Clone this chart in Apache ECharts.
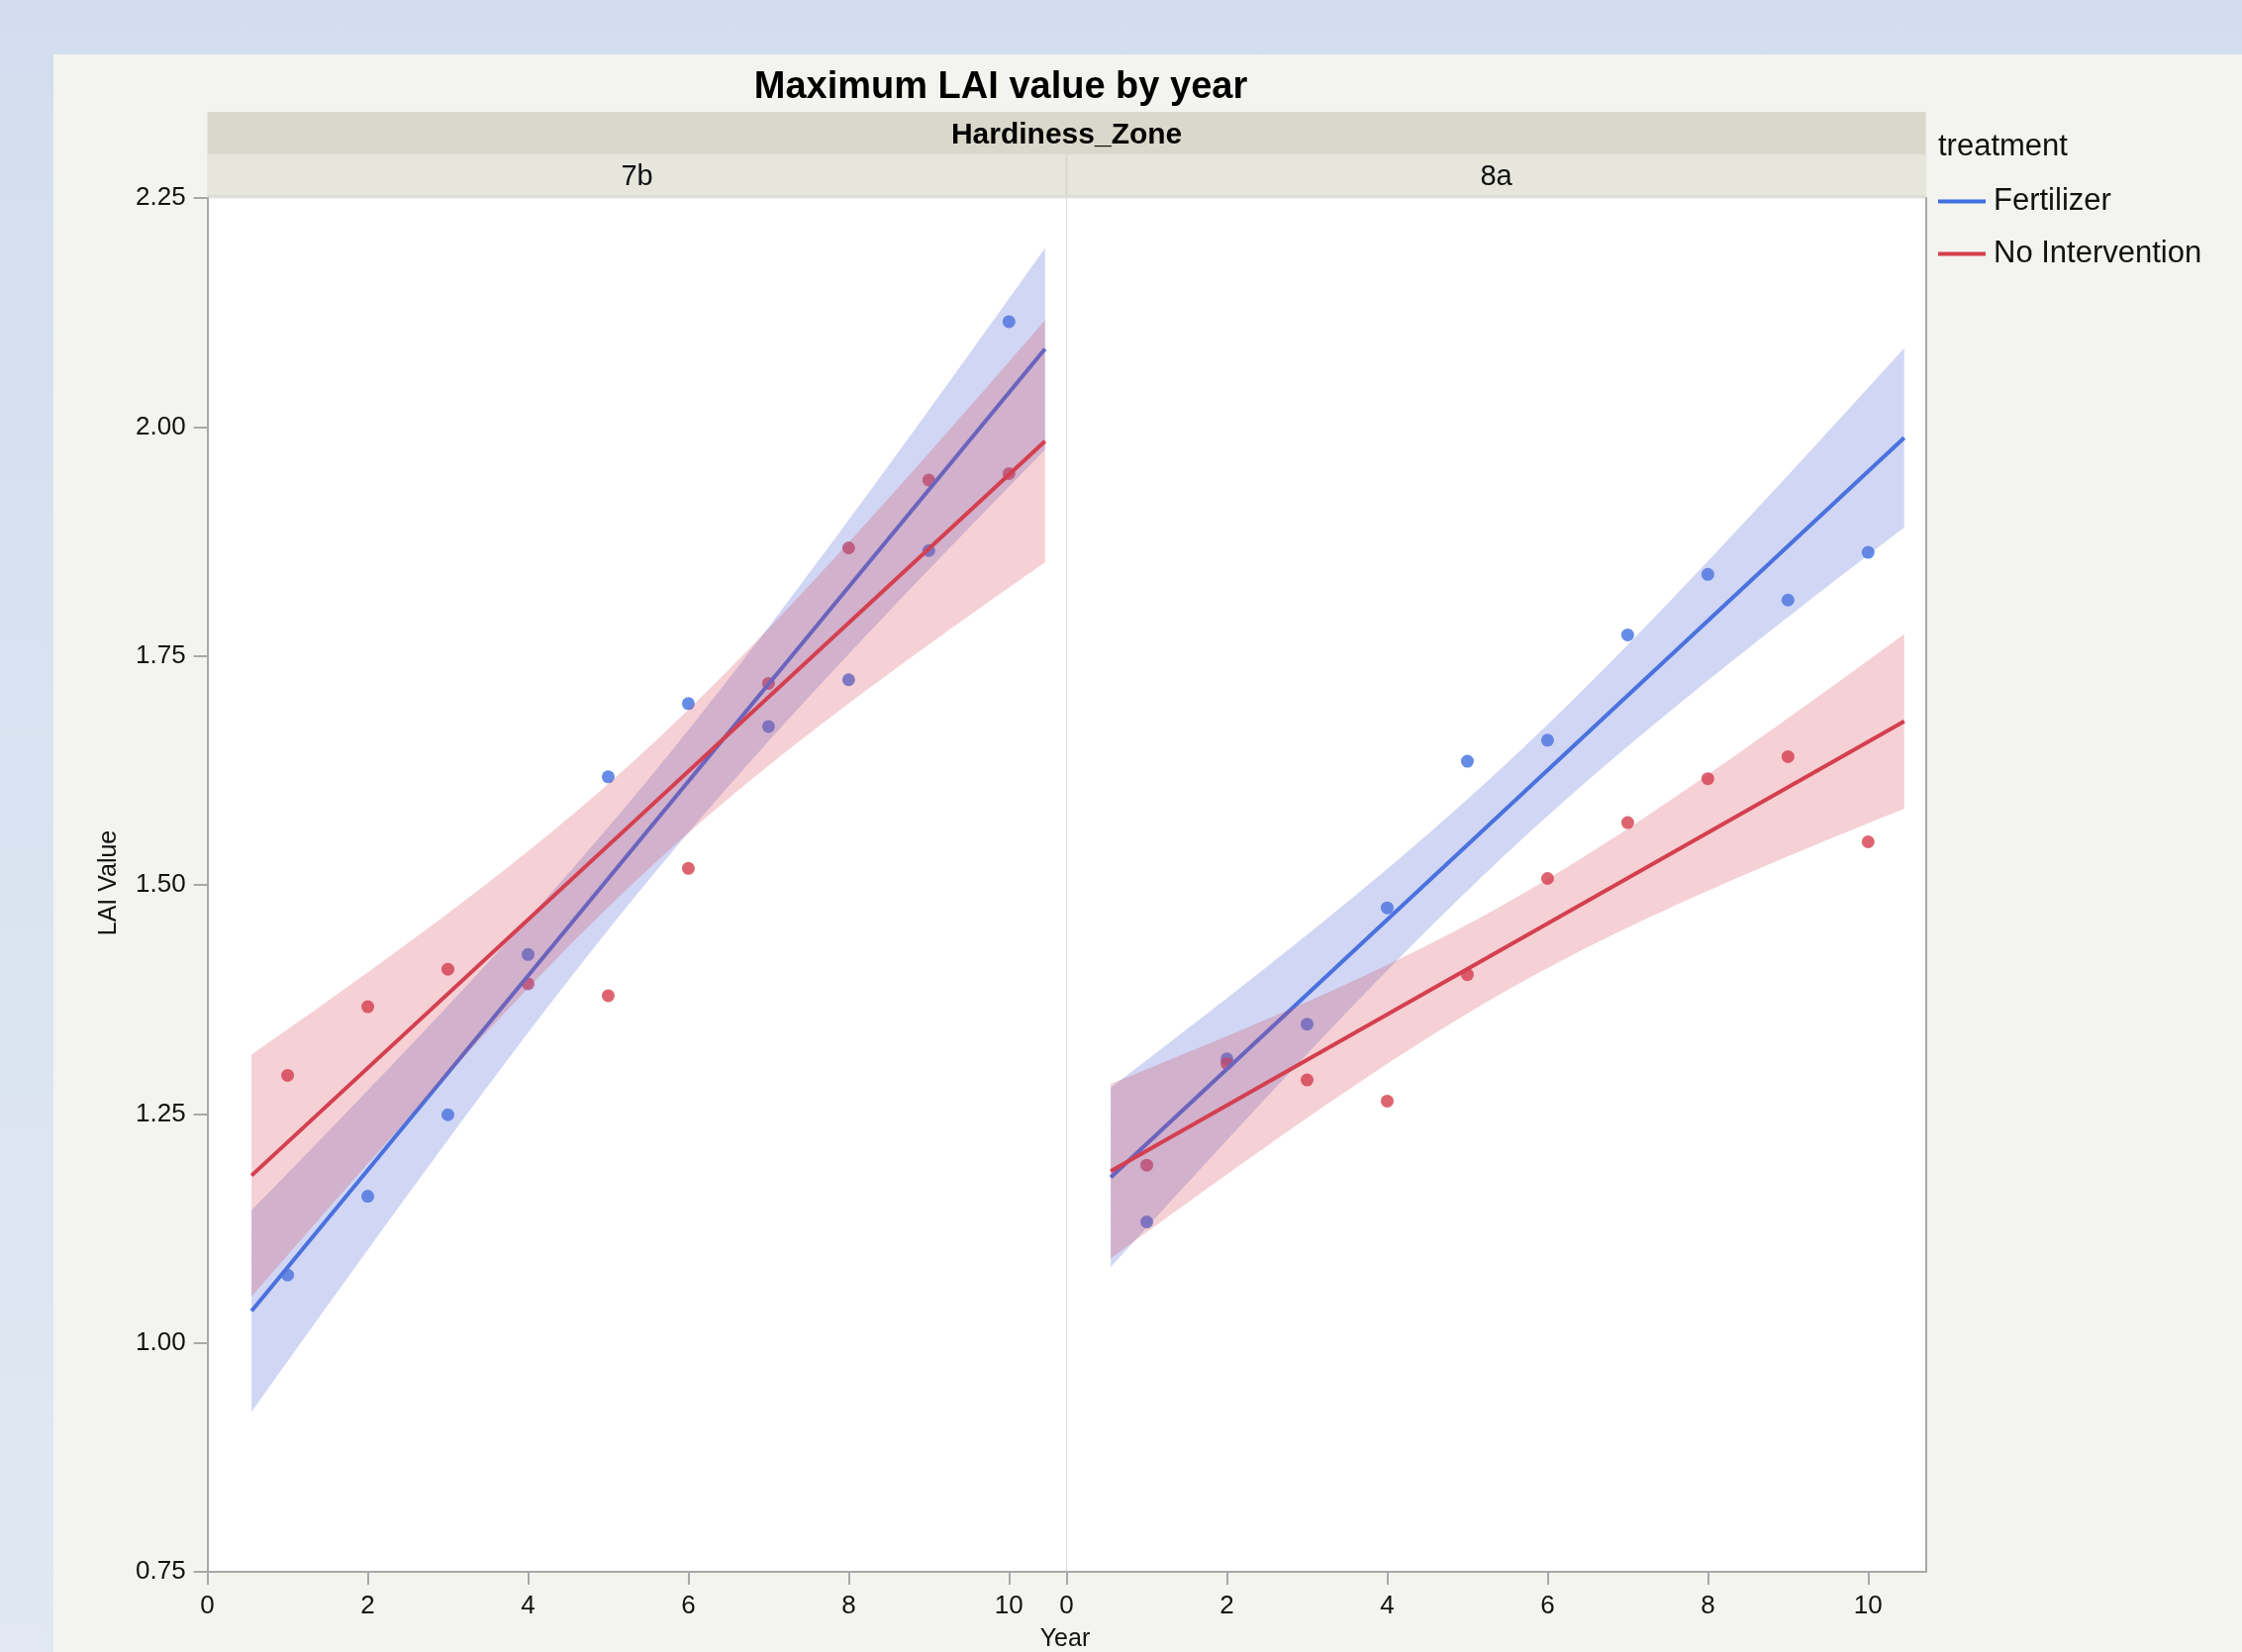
<!DOCTYPE html>
<html>
<head>
<meta charset="utf-8">
<script src="https://cdn.jsdelivr.net/npm/echarts@6/dist/echarts.min.js"></script>
<style>
  html, body { margin: 0; padding: 0; }
  #wrap { position: relative; width: 2265px; height: 1669px; overflow: hidden;
          background: linear-gradient(#d2deef, #e1e8f3); }
  #panel { position: absolute; left: 54px; top: 55px; width: 2211px; height: 1614px; background: #f3f4ef; }
  #chart { position: absolute; left: 0; top: 0; width: 2265px; height: 1669px; }
</style>
</head>
<body>
<div id="wrap"><div id="panel"></div><div id="chart"></div></div>
<script>
// ---------------- data ----------------
const years = [1, 2, 3, 4, 5, 6, 7, 8, 9, 10];
const zones = ['7b', '8a'];
const treatments = ['Fertilizer', 'No Intervention'];
const fertilizer7b = [1.074, 1.160, 1.249, 1.424, 1.618, 1.698, 1.673, 1.724, 1.865, 2.115];
const noIntervention7b = [1.292, 1.367, 1.408, 1.392, 1.379, 1.518, 1.720, 1.868, 1.942, 1.949];
const fertilizer8a = [1.132, 1.310, 1.348, 1.475, 1.635, 1.658, 1.773, 1.839, 1.811, 1.863];
const noIntervention8a = [1.194, 1.305, 1.287, 1.264, 1.402, 1.507, 1.568, 1.616, 1.640, 1.547];
const xTickValues = [0, 2, 4, 6, 8, 10];
const yMin = 0.75, yMax = 2.25, yStep = 0.25;
const xMaxPanel = 10.72;

// ---------------- style ----------------
const BLUE = '#3f6fe0', RED = '#d43f4f';
const BLUE_BAND = 'rgba(100,120,220,0.30)', RED_BAND = 'rgba(215,60,80,0.24)';
const FONT = '"Liberation Sans", Arial, Helvetica, sans-serif';

// linear regression with 95% confidence band for the mean
function regression(xs, ys) {
  const n = xs.length;
  const mx = xs.reduce((a, b) => a + b, 0) / n;
  const my = ys.reduce((a, b) => a + b, 0) / n;
  let sxx = 0, sxy = 0;
  for (let i = 0; i < n; i++) { sxx += (xs[i] - mx) ** 2; sxy += (xs[i] - mx) * (ys[i] - my); }
  const b = sxy / sxx, a = my - b * mx;
  let sse = 0;
  for (let i = 0; i < n; i++) sse += (ys[i] - (a + b * xs[i])) ** 2;
  const s = Math.sqrt(sse / (n - 2));
  const t = 2.306; // t(0.975, df=8)
  const xmin = Math.min(...xs), xmax = Math.max(...xs);
  const lo = xmin - 0.05 * (xmax - xmin), hi = xmax + 0.05 * (xmax - xmin);
  const upper = [], lower = [];
  const N = 120;
  for (let i = 0; i <= N; i++) {
    const x = lo + (hi - lo) * i / N;
    const yh = a + b * x;
    const h = t * s * Math.sqrt(1 / n + (x - mx) ** 2 / sxx);
    upper.push([x, yh + h]); lower.push([x, yh - h]);
  }
  return { line: [[lo, a + b * lo], [hi, a + b * hi]], upper, lower };
}

function bandSeries(fitRes, color, idx, z) {
  return {
    type: 'custom', xAxisIndex: idx, yAxisIndex: idx, z: z, silent: true,
    data: [fitRes.line[0]],
    renderItem: function (params, api) {
      const pts = fitRes.upper.map(p => api.coord(p))
        .concat(fitRes.lower.slice().reverse().map(p => api.coord(p)));
      return { type: 'polygon', shape: { points: pts }, style: { fill: color } };
    }
  };
}

const panels = [
  { f: fertilizer7b, n: noIntervention7b },
  { f: fertilizer8a, n: noIntervention8a }
];

const series = [];
panels.forEach((p, idx) => {
  const ff = regression(years, p.f), nf = regression(years, p.n);
  series.push({ type: 'scatter', xAxisIndex: idx, yAxisIndex: idx, z: 1, symbolSize: 13,
    itemStyle: { color: BLUE }, data: years.map((x, i) => [x, p.f[i]]) });
  series.push({ type: 'scatter', xAxisIndex: idx, yAxisIndex: idx, z: 1, symbolSize: 13,
    itemStyle: { color: RED }, data: years.map((x, i) => [x, p.n[i]]) });
  series.push({ type: 'line', name: treatments[0], xAxisIndex: idx, yAxisIndex: idx, z: 2,
    showSymbol: false, lineStyle: { color: BLUE, width: 4 }, itemStyle: { color: BLUE }, data: ff.line });
  series.push(bandSeries(ff, BLUE_BAND, idx, 3));
  series.push(bandSeries(nf, RED_BAND, idx, 4));
  series.push({ type: 'line', name: treatments[1], xAxisIndex: idx, yAxisIndex: idx, z: 5,
    showSymbol: false, lineStyle: { color: RED, width: 4 }, itemStyle: { color: RED }, data: nf.line });
});

const axisGray = '#a8a8a8';
function xAxisFor(idx) {
  return {
    type: 'value', gridIndex: idx, min: 0, max: xMaxPanel,
    axisLine: { show: true, onZero: false, lineStyle: { color: axisGray, width: 2 } },
    axisTick: { show: true, length: 13, customValues: xTickValues, lineStyle: { color: axisGray, width: 2 } },
    axisLabel: { customValues: xTickValues, margin: 22, fontSize: 26, fontFamily: FONT, color: '#111' },
    splitLine: { show: false }
  };
}
const yTickLabels = [];
for (let v = yMin; v <= yMax + 1e-9; v += yStep) yTickLabels.push(v.toFixed(2));

const option = {
  animation: false,
  grid: [
    { left: 209.6, top: 200, width: 868, height: 1388, show: true, backgroundColor: '#ffffff', borderColor: '#dcdcdc', borderWidth: 1 },
    { left: 1077.6, top: 200, width: 868, height: 1388, show: true, backgroundColor: '#ffffff', borderColor: '#dcdcdc', borderWidth: 1 }
  ],
  xAxis: [xAxisFor(0), xAxisFor(1)],
  yAxis: [
    { type: 'value', gridIndex: 0, min: yMin, max: yMax, interval: yStep,
      axisLine: { show: true, onZero: false, lineStyle: { color: axisGray, width: 2 } },
      axisTick: { show: true, length: 14, lineStyle: { color: axisGray, width: 2 } },
      axisLabel: { margin: 22, fontSize: 26, fontFamily: FONT, color: '#111',
        formatter: v => yTickLabels[Math.round((v - yMin) / yStep)] },
      splitLine: { show: false } },
    { type: 'value', gridIndex: 1, min: yMin, max: yMax, interval: yStep, position: 'right',
      axisLine: { show: true, onZero: false, lineStyle: { color: axisGray, width: 2 } },
      axisTick: { show: false }, axisLabel: { show: false }, splitLine: { show: false } }
  ],
  legend: {
    orient: 'vertical', left: 1953, top: 183, itemGap: 22, itemWidth: 48, itemHeight: 4,
    selectedMode: false,
    textStyle: { fontSize: 31, fontFamily: FONT, color: '#111', lineHeight: 30, padding: [0, 0, 0, 3] },
    data: [
      { name: treatments[0], icon: 'rect', itemStyle: { color: BLUE } },
      { name: treatments[1], icon: 'rect', itemStyle: { color: RED } }
    ]
  },
  graphic: [
    { type: 'rect', shape: { x: 209.6, y: 113, width: 1736, height: 42 }, style: { fill: '#d9d8ca' } },
    { type: 'rect', shape: { x: 209.6, y: 155, width: 1736, height: 44 }, style: { fill: '#d9d9cf' } },
    { type: 'rect', shape: { x: 210, y: 156, width: 866.5, height: 41.5 }, style: { fill: '#e6e6dd' } },
    { type: 'rect', shape: { x: 1078.6, y: 156, width: 866.5, height: 41.5 }, style: { fill: '#e6e6dd' } },
    { type: 'text', x: 1011, y: 89, style: { text: 'Maximum LAI value by year', font: 'bold 38px ' + FONT, fill: '#000', textAlign: 'center', textVerticalAlign: 'middle' } },
    { type: 'text', x: 1077.6, y: 137, style: { text: 'Hardiness_Zone', font: 'bold 30px ' + FONT, fill: '#000', textAlign: 'center', textVerticalAlign: 'middle' } },
    { type: 'text', x: 643.6, y: 179, style: { text: zones[0], font: '29px ' + FONT, fill: '#111', textAlign: 'center', textVerticalAlign: 'middle' } },
    { type: 'text', x: 1511.6, y: 179, style: { text: zones[1], font: '29px ' + FONT, fill: '#111', textAlign: 'center', textVerticalAlign: 'middle' } },
    { type: 'text', x: 1958, y: 148, style: { text: 'treatment', font: '31px ' + FONT, fill: '#111', textAlign: 'left', textVerticalAlign: 'middle' } },
    { type: 'text', x: 110, y: 892, rotation: Math.PI / 2, style: { text: 'LAI Value', font: '25px ' + FONT, fill: '#111', textAlign: 'center', textVerticalAlign: 'middle' } },
    { type: 'text', x: 1076, y: 1656, style: { text: 'Year', font: '25px ' + FONT, fill: '#111', textAlign: 'center', textVerticalAlign: 'middle' } }
  ],
  series: series
};

const chart = echarts.init(document.getElementById('chart'), null, { renderer: 'canvas' });
chart.setOption(option);
</script>
</body>
</html>
